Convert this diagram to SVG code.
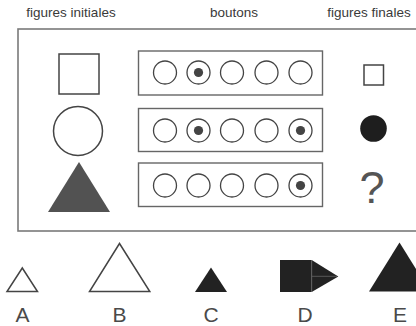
<svg xmlns="http://www.w3.org/2000/svg" width="416" height="326" viewBox="0 0 416 326">
<style>
.lbl{font-family:"Liberation Sans",Arial,sans-serif;font-size:13.5px;fill:#3a3a3a;text-anchor:middle}
.let{font-family:"Liberation Sans",Arial,sans-serif;font-size:21px;fill:#4a4a4a;text-anchor:middle}
.frame{fill:none;stroke:#7a7a7a;stroke-width:1.6}
.box{fill:#fff;stroke:#666;stroke-width:1.4}
.btn{fill:#fff;stroke:#444;stroke-width:1.3}
.dot{fill:#444}
.out{fill:#fff;stroke:#444;stroke-width:1.5}
.blk{fill:#222}
</style>
<rect width="416" height="326" fill="#fff"/>
<text class="lbl" x="71" y="17">figures initiales</text>
<text class="lbl" x="234" y="17">boutons</text>
<text class="lbl" x="369" y="17">figures finales</text>
<rect class="frame" x="18" y="29" width="430" height="202"/>
<g id="init-square"><rect class="out" x="59" y="54" width="40" height="40" stroke-width="1.6"/></g>
<g id="init-circle"><circle class="out" cx="78" cy="131" r="24.5"/></g>
<g id="init-triangle"><polygon points="79,162 110,212 48,212" fill="#525252"/></g>
<g id="buttons-1">
<rect class="box" x="138.5" y="51" width="184" height="44"/>
<circle class="btn" cx="165" cy="72.5" r="11.5"/>
<circle class="btn" cx="198.5" cy="72.5" r="11.5"/><circle class="dot" cx="198.5" cy="72.5" r="4.6"/>
<circle class="btn" cx="232" cy="72.5" r="11.5"/>
<circle class="btn" cx="266.5" cy="72.5" r="11.5"/>
<circle class="btn" cx="300.5" cy="72.5" r="11.5"/>
</g>
<g id="buttons-2">
<rect class="box" x="138.5" y="108.5" width="184" height="43"/>
<circle class="btn" cx="165" cy="130.5" r="11.5"/>
<circle class="btn" cx="198.5" cy="130.5" r="11.5"/><circle class="dot" cx="198.5" cy="130.5" r="4.6"/>
<circle class="btn" cx="232" cy="130.5" r="11.5"/>
<circle class="btn" cx="266.5" cy="130.5" r="11.5"/>
<circle class="btn" cx="300.5" cy="130.5" r="11.5"/><circle class="dot" cx="300.5" cy="130.5" r="4.6"/>
</g>
<g id="buttons-3">
<rect class="box" x="138.5" y="163" width="184" height="43.5"/>
<circle class="btn" cx="165" cy="185.5" r="11.5"/>
<circle class="btn" cx="198.5" cy="185.5" r="11.5"/>
<circle class="btn" cx="232" cy="185.5" r="11.5"/>
<circle class="btn" cx="266.5" cy="185.5" r="11.5"/>
<circle class="btn" cx="300.5" cy="185.5" r="11.5"/><circle class="dot" cx="300.5" cy="185.5" r="4.6"/>
</g>
<g id="final-square"><rect class="out" x="364" y="65" width="19.5" height="20" stroke="#555"/></g>
<g id="final-circle"><circle cx="373.5" cy="128.5" r="13.3" fill="#1e1e1e"/></g>
<g id="final-unknown"><text x="372" y="202.5" font-family="'Liberation Sans',Arial,sans-serif" font-size="45" fill="#555" text-anchor="middle">?</text></g>
<g id="option-A"><polygon class="out" points="22.3,268 37.5,291.5 7,291.5"/><text class="let" x="22.5" y="322">A</text></g>
<g id="option-B"><polygon class="out" points="119.5,243.5 149.8,291.5 89.5,291.5"/><text class="let" x="119.5" y="322">B</text></g>
<g id="option-C"><polygon class="blk" points="211,267.5 227,292 195,292"/><text class="let" x="211" y="322">C</text></g>
<g id="option-D"><rect class="blk" x="280" y="260" width="31.7" height="32"/><polygon class="blk" points="311.7,260 338.3,276.5 311.7,292"/><line x1="311.7" y1="260" x2="311.7" y2="292" stroke="#666" stroke-width="0.8"/><line x1="311.7" y1="276.3" x2="337" y2="276.3" stroke="#666" stroke-width="0.8"/><text class="let" x="305" y="322">D</text></g>
<g id="option-E"><polygon class="blk" points="399.5,242.5 430,291.5 369,291.5"/><text class="let" x="400" y="322">E</text></g>
</svg>
